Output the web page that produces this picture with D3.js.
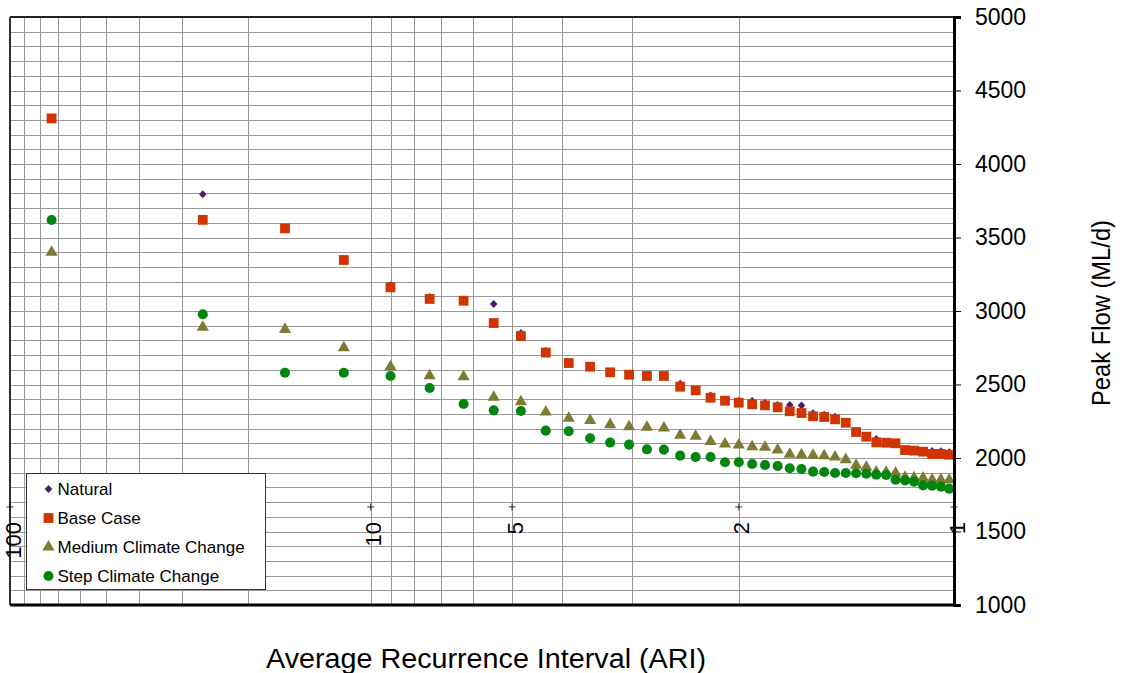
<!DOCTYPE html>
<html>
<head>
<meta charset="utf-8">
<script src="https://cdn.jsdelivr.net/npm/d3@7"></script>
<style>
  body { margin: 0; background: #fff; }
  svg { display: block; font-family: Arial, "Liberation Sans", sans-serif; }
</style>
</head>
<body>
<div id="chartContainer"></div>
<script>
// peak flow vs ARI, plotted on a normal probability scale (AEP = 1 - exp(-1/ARI))

var WIDTH = 1126;
var HEIGHT = 673;
var LEFT = 10, RIGHT = 954, TOP = 17, BOTTOM = 605;

// ARI of each ranked flow (41 years of record)
var ari = [73.43, 26.36, 16.06, 11.55, 9.018, 7.396, 6.268, 5.439, 4.804, 4.301,
  3.894, 3.557, 3.274, 3.032, 2.824, 2.643, 2.483, 2.342, 2.216, 2.102,
  2.000, 1.907, 1.823, 1.745, 1.674, 1.609, 1.548, 1.492, 1.440, 1.391,
  1.346, 1.303, 1.263, 1.225, 1.190, 1.156, 1.125, 1.095, 1.066, 1.039, 1.014];

var natural = [4310, 3794, 3562, 3347, 3175, 3095, 3070, 3048, 2850, 2730,
  2646, 2621, 2583, 2567, 2558, 2558, 2505, 2460, 2425, 2390,
  2390, 2388, 2374, 2360, 2360, 2357, 2304, 2294, 2281, 2240,
  2177, 2145, 2129, 2104, 2100, 2058, 2054, 2050, 2048, 2046, 2039];

var baseCase = [4310, 3620, 3562, 3347, 3161, 3082, 3070, 2918, 2830, 2717,
  2646, 2621, 2583, 2567, 2558, 2558, 2485, 2460, 2410, 2390,
  2376, 2365, 2358, 2345, 2318, 2306, 2284, 2279, 2263, 2240,
  2177, 2145, 2107, 2104, 2100, 2054, 2050, 2043, 2027, 2027, 2022];

var mediumCC = [3400, 2889, 2875, 2750, 2621, 2560, 2553, 2413, 2383, 2313,
  2270, 2256, 2227, 2213, 2209, 2204, 2155, 2148, 2113, 2095,
  2088, 2077, 2073, 2054, 2025, 2022, 2018, 2016, 2007, 1989,
  1950, 1937, 1905, 1903, 1898, 1869, 1866, 1864, 1852, 1852, 1850];

var stepCC = [3619, 2978, 2580, 2580, 2558, 2476, 2367, 2324, 2320, 2186,
  2182, 2134, 2105, 2091, 2059, 2057, 2016, 2007, 2007, 1971,
  1971, 1959, 1952, 1946, 1930, 1925, 1907, 1905, 1898, 1898,
  1896, 1893, 1886, 1884, 1852, 1848, 1839, 1814, 1812, 1805, 1791];

// x axis labels are a dummy series of "+" markers
var labelARI = [100, 10, 5, 2, 1];
var labelText = ["100", "10", "5", "2", "1"];
var labelFlow = 1667;

var gridARI = [90, 80, 70, 60, 50, 40, 30, 20, 10, 9, 8, 7, 6, 5, 4, 3, 2];
var gridFlow = d3.range(1100, 5000, 100);
var yTicks = d3.range(1000, 5001, 500);

var seriesNames = ["Natural", "Base Case", "Medium Climate Change", "Step Climate Change"];

// inverse normal cdf (Acklam)
function probit(p) {
  var a = [-3.969683028665376e+01, 2.209460984245205e+02, -2.759285104469687e+02, 1.383577518672690e+02, -3.066479806614716e+01, 2.506628277459239e+00];
  var b = [-5.447609879822406e+01, 1.615858368580409e+02, -1.556989798598866e+02, 6.680131188771972e+01, -1.328068155288572e+01];
  var c = [-7.784894002430293e-03, -3.223964580411365e-01, -2.400758277161838e+00, -2.549732539343734e+00, 4.374664141464968e+00, 2.938163982698783e+00];
  var d = [7.784695709041462e-03, 3.224671290700398e-01, 2.445134137142996e+00, 3.754408661907416e+00];
  var plow = 0.02425, q, r;
  if (p < plow) {
    q = Math.sqrt(-2 * Math.log(p));
    return (((((c[0]*q+c[1])*q+c[2])*q+c[3])*q+c[4])*q+c[5]) / ((((d[0]*q+d[1])*q+d[2])*q+d[3])*q+1);
  }
  if (p > 1 - plow) {
    q = Math.sqrt(-2 * Math.log(1 - p));
    return -(((((c[0]*q+c[1])*q+c[2])*q+c[3])*q+c[4])*q+c[5]) / ((((d[0]*q+d[1])*q+d[2])*q+d[3])*q+1);
  }
  q = p - 0.5; r = q * q;
  return (((((a[0]*r+a[1])*r+a[2])*r+a[3])*r+a[4])*r+a[5])*q / (((((b[0]*r+b[1])*r+b[2])*r+b[3])*r+b[4])*r+1);
}
function ariToZ(t) { return probit(Math.exp(-1 / t)); }

var zScale = d3.scaleLinear().domain([ariToZ(100), ariToZ(1)]).range([LEFT, RIGHT]);
var x = function (t) { return zScale(ariToZ(t)); };
var y = d3.scaleLinear().domain([1000, 5000]).range([BOTTOM, TOP]);

var svg = d3.select("#chartContainer").append("svg")
  .attr("width", WIDTH).attr("height", HEIGHT);

// gridlines
var grid = svg.append("g").attr("stroke", "#999").attr("stroke-width", 1);
grid.selectAll("line.h").data(gridFlow).enter().append("line")
  .attr("x1", LEFT).attr("x2", RIGHT)
  .attr("y1", function (d) { return Math.round(y(d)) + 0.5; })
  .attr("y2", function (d) { return Math.round(y(d)) + 0.5; });
grid.selectAll("line.v").data(gridARI).enter().append("line")
  .attr("y1", TOP).attr("y2", BOTTOM)
  .attr("x1", function (d) { return Math.round(x(d)) + 0.5; })
  .attr("x2", function (d) { return Math.round(x(d)) + 0.5; });

// plot area border
svg.append("line").attr("x1", LEFT).attr("x2", RIGHT).attr("y1", TOP).attr("y2", TOP)
  .attr("stroke", "#222").attr("stroke-width", 2);
svg.append("line").attr("x1", LEFT).attr("x2", LEFT).attr("y1", TOP).attr("y2", BOTTOM)
  .attr("stroke", "#333").attr("stroke-width", 2);
svg.append("line").attr("x1", LEFT).attr("x2", RIGHT).attr("y1", BOTTOM).attr("y2", BOTTOM)
  .attr("stroke", "#000").attr("stroke-width", 3);

var colors = ["#4e1a6e", "#d03500", "#7d7a34", "#00850f"];
var shapes = [
  "M0,-4L3.8,0L0,4L-3.8,0Z",                      // diamond
  d3.symbol().type(d3.symbolSquare).size(96)(),     // square
  d3.symbol().type(d3.symbolTriangle).size(64)(),   // triangle
  d3.symbol().type(d3.symbolCircle).size(80)()      // circle
];

function marker(g, i) {
  g.append("path").attr("d", shapes[i]).attr("fill", colors[i]);
}

// points; base case drawn over natural, as in the original
var allSeries = [natural, baseCase, mediumCC, stepCC];
[0, 1, 2, 3].forEach(function (i) {
  var s = svg.append("g");
  s.selectAll("g").data(allSeries[i]).enter().append("g")
    .attr("transform", function (d, k) { return "translate(" + x(ari[k]) + "," + y(d) + ")"; })
    .each(function () { marker(d3.select(this), i); });
});

// x axis label markers and rotated labels
var lab = svg.append("g");
lab.selectAll("path").data(labelARI).enter().append("path")
  .attr("fill", "none").attr("stroke", "#000").attr("stroke-width", 0.8)
  .attr("d", "M-3.5,0H3.5M0,-3.5V3.5")
  .attr("transform", function (d) { return "translate(" + x(d) + "," + y(labelFlow) + ")"; });
lab.selectAll("text").data(labelARI).enter().append("text")
  .attr("transform", function (d) { return "translate(" + x(d) + "," + 522 + ") rotate(-90)"; })
  .attr("text-anchor", "end")
  .attr("dy", "0.48em")
  .style("font-size", "22px")
  .text(function (d, k) { return labelText[k]; });

// legend
var legend = svg.append("g").attr("transform", "translate(26.5,473.5)");
legend.append("rect").attr("width", 239).attr("height", 116)
  .attr("fill", "#fff").attr("stroke", "#333").attr("stroke-width", 1);
seriesNames.forEach(function (name, i) {
  var row = legend.append("g").attr("transform", "translate(22," + (15.5 + i * 29) + ")");
  marker(row, i);
  row.append("text").attr("x", 9).attr("dy", "0.35em")
    .style("font-size", "17px").text(name);
});

// y axis on the right
var yAxis = svg.append("g")
  .attr("transform", "translate(" + RIGHT + ",0)")
  .call(d3.axisRight(y).tickValues(yTicks).tickFormat(d3.format("d")).tickSize(7).tickPadding(14));
yAxis.select(".domain").attr("stroke", "#000").attr("stroke-width", 3);
yAxis.selectAll(".tick line").attr("stroke", "#000").attr("stroke-width", 1);
yAxis.selectAll(".tick text").style("font-size", "23px").attr("fill", "#000")
  .style("font-family", "Arial, 'Liberation Sans', sans-serif");

// axis titles
svg.append("text")
  .attr("x", 486).attr("y", 668)
  .attr("text-anchor", "middle")
  .attr("textLength", 440).attr("lengthAdjust", "spacingAndGlyphs")
  .style("font-size", "27px")
  .text("Average Recurrence Interval (ARI)");

svg.append("text")
  .attr("transform", "translate(1110,313) rotate(-90)")
  .attr("text-anchor", "middle")
  .attr("textLength", 186).attr("lengthAdjust", "spacingAndGlyphs")
  .style("font-size", "26px")
  .text("Peak Flow  (ML/d)");
</script>
</body>
</html>
